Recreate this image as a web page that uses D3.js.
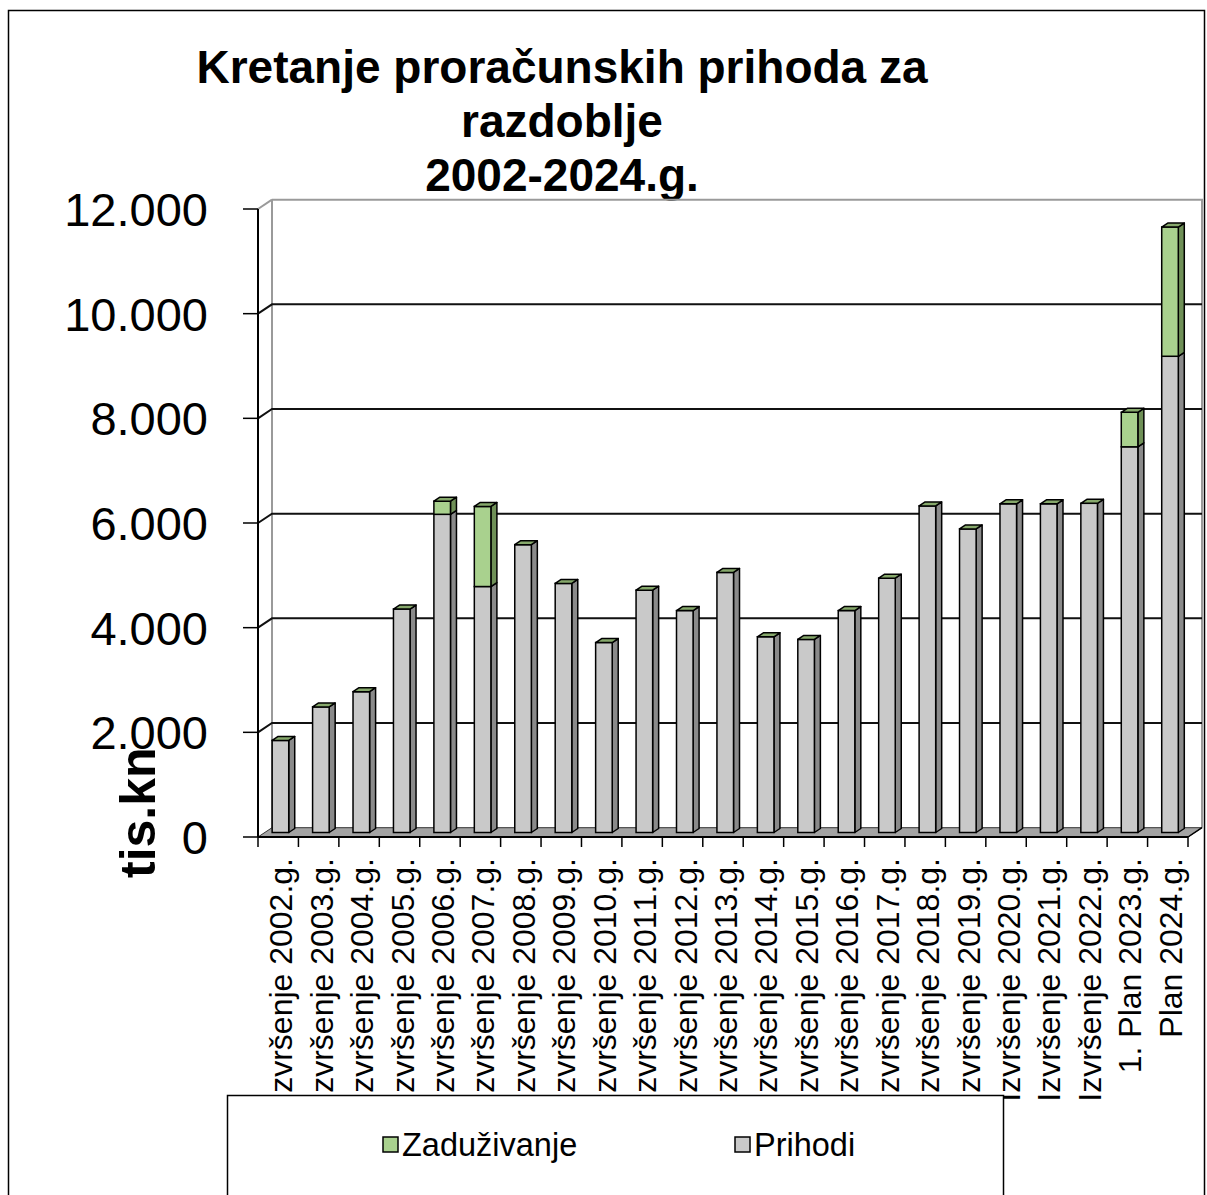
<!DOCTYPE html>
<meta charset="utf-8">
<style>
  body { margin: 0; background: #fff; }
  text { font-family: "Liberation Sans", Arial, sans-serif; fill: #000; font-kerning: none; }
</style>
<svg width="1207" height="1195"></svg>
<script src="https://d3js.org/d3.v7.min.js"></script>
<script>

var categories = ["Izvršenje 2002.g.", "Izvršenje 2003.g.", "Izvršenje 2004.g.", "Izvršenje 2005.g.",
  "Izvršenje 2006.g.", "Izvršenje 2007.g.", "Izvršenje 2008.g.", "Izvršenje 2009.g.",
  "Izvršenje 2010.g.", "Izvršenje 2011.g.", "Izvršenje 2012.g.", "Izvršenje 2013.g.",
  "Izvršenje 2014.g.", "Izvršenje 2015.g.", "Izvršenje 2016.g.", "Izvršenje 2017.g.",
  "Izvršenje 2018.g.", "Izvršenje 2019.g.", "Izvršenje 2020.g.", "Izvršenje 2021.g.",
  "Izvršenje 2022.g.", "1. Plan 2023.g.", "Plan 2024.g."];

var prihodi = [1760, 2400, 2690, 4270, 6080, 4700, 5500, 4760, 3630, 4630, 4240, 4970,
  3740, 3690, 4240, 4860, 6240, 5800, 6280, 6280, 6290, 7370, 9100];

var zaduzivanje = [0, 0, 0, 0, 250, 1530, 0, 0, 0, 0, 0, 0,
  0, 0, 0, 0, 0, 0, 0, 0, 0, 660, 2470];

var yTicks = [0, 2000, 4000, 6000, 8000, 10000, 12000];

var titleLines = ["Kretanje proračunskih prihoda za", "razdoblje", "2002-2024.g."];

var svg = d3.select("svg");

var locale = d3.formatLocale({decimal: ",", thousands: ".", grouping: [3], currency: ["", " kn"]});
var fmt = locale.format(",");

// front plane of the 3d box
var x = d3.scaleBand().domain(categories).range([258, 1188]).padding(0);
var y = d3.scaleLinear().domain([0, 12000]).range([837, 209]);
var step = x.step();

var depth = {dx: 14, dy: -9.3};      // wall offset
var barShift = -4.5;                 // bars sit a bit into the box
var barDepth = {dx: 6, dy: -4};
var faceX = step * 0.35, faceW = step * 0.41;

var col = {
  grayFront: "#c9c9c9", graySide: "#8a8a8a",
  greenFront: "#a9d18e", greenSide: "#6f9057", greenTop: "#86a86b",
  floor: "#a3a3a3", wall: "#9a9a9a"
};

// outer frame
svg.append("rect")
  .attr("x", 8.5).attr("y", 10.5)
  .attr("width", 1196).attr("height", 1200)
  .attr("fill", "#fff").attr("stroke", "#000").attr("stroke-width", 1.5);

// title
svg.append("g").selectAll("text")
  .data(titleLines)
  .enter().append("text")
  .attr("x", 562)
  .attr("y", function(d, i) { return 83 + i * 54; })
  .attr("text-anchor", "middle")
  .style("font-size", "46px")
  .style("font-weight", "bold")
  .text(function(d) { return d; });

var x0 = x.range()[0], x1 = x.range()[1];
var yTop = y(12000), yZero = y(0);

// back wall + left wall
svg.append("path")
  .attr("d", "M" + (x0 + depth.dx) + "," + (yTop + depth.dy) + "H" + (x1 + depth.dx) + "V" + (yZero + depth.dy))
  .attr("fill", "none").attr("stroke", col.wall).attr("stroke-width", 2);
svg.append("line")
  .attr("x1", x0 + depth.dx).attr("x2", x0 + depth.dx)
  .attr("y1", yTop + depth.dy).attr("y2", yZero + depth.dy)
  .attr("stroke", col.wall).attr("stroke-width", 2);
svg.append("line")
  .attr("x1", x0).attr("y1", yTop)
  .attr("x2", x0 + depth.dx).attr("y2", yTop + depth.dy)
  .attr("stroke", col.wall).attr("stroke-width", 2);

// gridlines
var grid = svg.append("g");
yTicks.filter(function(t) { return t > 0 && t < 12000; }).forEach(function(t) {
  grid.append("path")
    .attr("d", "M" + x0 + "," + y(t) + "L" + (x0 + depth.dx) + "," + (y(t) + depth.dy) + "H" + (x1 + depth.dx))
    .attr("fill", "none").attr("stroke", "#111").attr("stroke-width", 2);
});

// floor
svg.append("path")
  .attr("d", "M" + x0 + "," + yZero + "H" + x1 + "L" + (x1 + depth.dx) + "," + (yZero + depth.dy) +
    "H" + (x0 + depth.dx) + "Z")
  .attr("fill", col.floor).attr("stroke", "#333").attr("stroke-width", 1);

// y axis
svg.append("line")
  .attr("x1", x0).attr("x2", x0).attr("y1", yTop).attr("y2", yZero)
  .attr("stroke", "#000").attr("stroke-width", 2);
var yAx = svg.append("g");
yAx.selectAll("line").data(yTicks).enter().append("line")
  .attr("x1", 243).attr("x2", x0)
  .attr("y1", function(d) { return y(d); }).attr("y2", function(d) { return y(d); })
  .attr("stroke", "#000").attr("stroke-width", 1.5);
yAx.selectAll("text").data(yTicks).enter().append("text")
  .attr("x", 208).attr("y", function(d) { return y(d); })
  .attr("dy", "0.36em")
  .attr("text-anchor", "end")
  .style("font-size", "47px")
  .text(function(d) { return fmt(d); });

// bars
function box(g, xl, yb, yt, front, side) {
  g.append("path")
    .attr("d", "M" + (xl + faceW) + "," + yb + "l" + barDepth.dx + "," + barDepth.dy +
      "V" + (yt + barDepth.dy) + "l" + (-barDepth.dx) + "," + (-barDepth.dy) + "Z")
    .attr("fill", side).attr("stroke", "#000").attr("stroke-width", 1.5).attr("stroke-linejoin", "round");
  g.append("rect")
    .attr("x", xl).attr("y", yt).attr("width", faceW).attr("height", yb - yt)
    .attr("fill", front).attr("stroke", "#000").attr("stroke-width", 1.5);
}

var bars = svg.append("g");
categories.forEach(function(c, i) {
  var g = bars.append("g");
  var xl = x(c) + faceX;
  var yb = y(0) + barShift;
  var yp = y(prihodi[i]) + barShift;
  var yt = y(prihodi[i] + zaduzivanje[i]) + barShift;
  box(g, xl, yb, yp, col.grayFront, col.graySide);
  if (zaduzivanje[i] > 0) box(g, xl, yp, yt, col.greenFront, col.greenSide);
  g.append("path")
    .attr("d", "M" + xl + "," + yt + "l" + barDepth.dx + "," + barDepth.dy + "h" + faceW +
      "l" + (-barDepth.dx) + "," + (-barDepth.dy) + "Z")
    .attr("fill", col.greenTop).attr("stroke", "#000").attr("stroke-width", 1.5).attr("stroke-linejoin", "round");
});

// x axis: front edge + ticks
svg.append("line")
  .attr("x1", x0).attr("x2", x1).attr("y1", yZero).attr("y2", yZero)
  .attr("stroke", "#000").attr("stroke-width", 2);
svg.append("line")
  .attr("x1", x1).attr("y1", yZero).attr("x2", x1 + depth.dx).attr("y2", yZero + depth.dy)
  .attr("stroke", "#000").attr("stroke-width", 1.5);
var xt = svg.append("g");
xt.selectAll("line").data(categories.concat(["end"])).enter().append("line")
  .attr("x1", function(d, i) { return x0 + i * step; })
  .attr("x2", function(d, i) { return x0 + i * step; })
  .attr("y1", yZero).attr("y2", yZero + 10)
  .attr("stroke", "#000").attr("stroke-width", 1.5);
xt.selectAll("text").data(categories).enter().append("text")
  .attr("transform", function(d) { return "translate(" + (x(d) + step / 2 + 14) + ",858) rotate(-90)"; })
  .attr("text-anchor", "end")
  .style("font-size", "32px")
  .text(function(d) { return d; });

// y axis title
svg.append("text")
  .attr("transform", "translate(155,878) rotate(-90)")
  .style("font-size", "50px")
  .style("font-weight", "bold")
  .text("tis.kn");

// legend
var legendItems = [
  {name: "Zaduživanje", color: col.greenFront, x: 383},
  {name: "Prihodi", color: col.grayFront, x: 735}
];
svg.append("rect")
  .attr("x", 227.5).attr("y", 1095.5).attr("width", 776).attr("height", 120)
  .attr("fill", "#fff").attr("stroke", "#000").attr("stroke-width", 1.5);
var lg = svg.append("g").selectAll("g").data(legendItems).enter().append("g");
lg.append("rect")
  .attr("x", function(d) { return d.x; }).attr("y", 1137)
  .attr("width", 15).attr("height", 15)
  .attr("fill", function(d) { return d.color; })
  .attr("stroke", "#000").attr("stroke-width", 1.5);
lg.append("text")
  .attr("x", function(d) { return d.x + 19; }).attr("y", 1156)
  .style("font-size", "32.5px")
  .text(function(d) { return d.name; });

</script>
